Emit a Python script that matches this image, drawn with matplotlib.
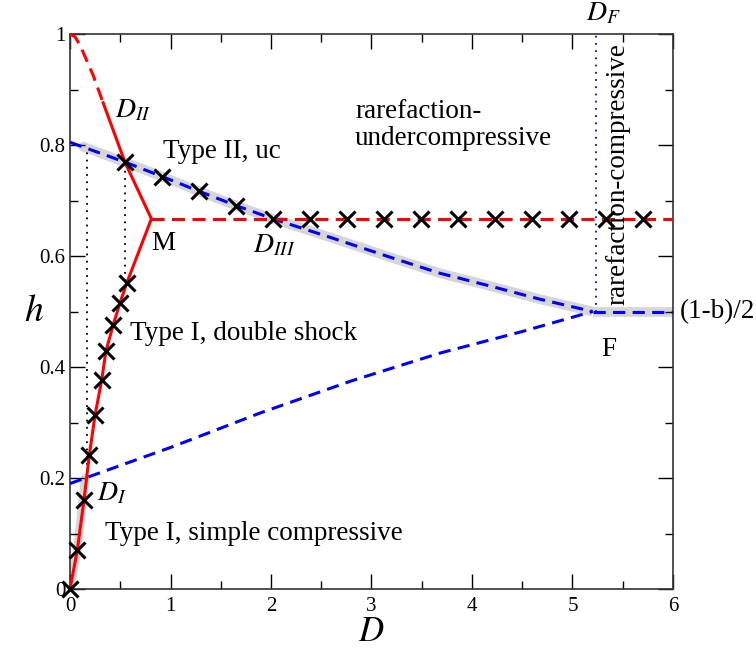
import numpy as np
import matplotlib
matplotlib.use("Agg")
import matplotlib.pyplot as plt
from matplotlib.ticker import MultipleLocator

plt.rcParams['font.family'] = ['Liberation Serif', 'DejaVu Serif']
plt.rcParams['mathtext.fontset'] = 'stix'

# upper blue boundary ending at F
blue_up_D = [0, 0.55, 0.92, 1.28, 1.65, 2.02, 2.6, 3.2, 3.68, 4.2, 4.68, 5.2]
blue_up_h = [0.805, 0.769, 0.743, 0.717, 0.691, 0.667, 0.633, 0.597, 0.569, 0.545, 0.522, 0.50]
flat_D = [5.2, 6.0]
flat_h = [0.5, 0.5]

# lower blue boundary
blue_lo_D = [0, 1.0, 1.89, 2.8, 3.68, 4.5, 5.2]
blue_lo_h = [0.19, 0.255, 0.317, 0.375, 0.425, 0.464, 0.50]

# red lower branch (origin -> M)
red_lo_D = [0, 0.073, 0.139, 0.192, 0.249, 0.315, 0.358, 0.43, 0.497, 0.564, 0.81]
red_lo_h = [0, 0.07, 0.16, 0.241, 0.313, 0.376, 0.429, 0.476, 0.515, 0.551, 0.667]

# red upper branch (h=1 -> M)
red_up_dash_D = [0, 0.05, 0.1, 0.23, 0.33]
red_up_dash_h = [1.0, 0.995, 0.98, 0.926, 0.876]
red_up_D = [0.33, 0.547, 0.81]
red_up_h = [0.876, 0.769, 0.667]

red_flat_D = [0.81, 6.0]
red_flat_h = [0.667, 0.667]

# grey band along the red branch near the origin
band_red_D = [0, 0.073, 0.15]
band_red_h = [0, 0.07, 0.2]

# crosses
x_lo_D = [0, 0.073, 0.139, 0.192, 0.249, 0.315, 0.358, 0.43, 0.497, 0.564]
x_lo_h = [0, 0.07, 0.16, 0.241, 0.313, 0.376, 0.429, 0.476, 0.515, 0.551]
x_up_D = [0.547, 0.918, 1.284, 1.649, 2.02, 2.388, 2.753, 3.124, 3.493,
          3.864, 4.229, 4.597, 4.965, 5.333, 5.704]
x_up_h = [0.769, 0.743, 0.717, 0.691, 0.667, 0.667, 0.667, 0.667, 0.667,
          0.667, 0.667, 0.667, 0.667, 0.667, 0.667]

fig = plt.figure(figsize=(7.56, 6.57), dpi=100)
ax = fig.add_axes([0.0926, 0.1035, 0.7976, 0.8447])

grey = '#d6d6d6'
ax.plot(blue_up_D[1:], blue_up_h[1:], color=grey, lw=7, solid_capstyle='butt', zorder=1)
ax.plot([0.13, 0.55], [0.797, 0.769], color=grey, lw=7, solid_capstyle='round', zorder=1)
ax.plot(flat_D, flat_h, color=grey, lw=7, solid_capstyle='butt', zorder=1, clip_on=False)
ax.plot(band_red_D, band_red_h, color=grey, lw=6, solid_capstyle='round', zorder=1)

bdash = (4.0, 2.4)
ax.plot(blue_up_D, blue_up_h, color='#0000ff', lw=2.2, dashes=bdash, zorder=3)
ax.plot(flat_D, flat_h, color='#0000ff', lw=2.2, dashes=bdash, zorder=3)
ax.plot(blue_lo_D, blue_lo_h, color='#0000ff', lw=2.2, dashes=bdash, zorder=3)

rdash = (4.3, 2.4)
ax.plot(red_lo_D, red_lo_h, color='#ff0000', lw=2.2, zorder=3)
ax.plot(red_up_D, red_up_h, color='#ff0000', lw=2.2, zorder=3)
ax.plot(red_up_dash_D, red_up_dash_h, color='#ff0000', lw=2.2, dashes=rdash, zorder=3)
ax.plot(red_flat_D, red_flat_h, color='#ff0000', lw=2.2, dashes=rdash, zorder=3)

ax.plot([0.165, 0.165], [0.21, 0.797], color='k', lw=1.3, ls=(0, (1, 3)), zorder=2)
ax.plot([0.547, 0.547], [0.555, 0.769], color='k', lw=1.3, ls=(0, (1, 3)), zorder=2)
ax.plot([5.234, 5.234], [0.5, 1.0], color='#0000ff', lw=1.3, ls=(0, (1, 3)), zorder=2)

ax.plot(x_lo_D, x_lo_h, ls='none', marker='x', ms=11, mew=2.2, color='k', zorder=4, clip_on=False)
ax.plot(x_up_D, x_up_h, ls='none', marker='x', ms=11, mew=2.2, color='k', zorder=4)

ax.set_xlim(0, 6)
ax.set_ylim(0, 1)
ax.xaxis.set_major_locator(MultipleLocator(1))
ax.xaxis.set_minor_locator(MultipleLocator(0.5))
ax.yaxis.set_minor_locator(MultipleLocator(0.1))
ax.set_yticks([0, 0.2, 0.4, 0.6, 0.8, 1.0])
ax.set_yticklabels(['0', '0.2', '0.4', '0.6', '0.8', '1'])
ax.tick_params(which='both', direction='in', top=True, right=True, labelsize=15, width=1)
ax.tick_params(which='major', length=10.5)
ax.tick_params(which='minor', length=5.5)
ax.tick_params(axis='x', pad=6)
for s in ax.spines.values():
    s.set_linewidth(1.2)
    s.set_color('#333333')

ax.set_xlabel('$D$', fontsize=25, labelpad=0)
ax.set_ylabel('$h$', fontsize=27, rotation=0, labelpad=4, va='center')

fs = 19.5
ax.text(0.45, 0.849, '$D_{II}$', fontsize=20)
ax.text(0.925, 0.776, 'Type II, uc', fontsize=fs)
ax.text(0.81, 0.61, 'M', fontsize=fs)
ax.text(1.82, 0.607, '$D_{III}$', fontsize=20)
ax.text(2.836, 0.848, 'rarefaction-', fontsize=fs)
ax.text(2.836, 0.800, 'undercompressive', fontsize=fs)
ax.text(5.457, 0.512, 'rarefaction-compressive', fontsize=fs, rotation=90,
        ha='center', va='bottom')
ax.text(5.13, 1.025, '$D_F$', fontsize=20, clip_on=False)
ax.text(6.07, 0.5, '(1-b)/2', fontsize=fs, va='center', clip_on=False)
ax.text(5.29, 0.42, 'F', fontsize=fs)
ax.text(0.597, 0.449, 'Type I, double shock', fontsize=fs)
ax.text(0.265, 0.16, '$D_I$', fontsize=20)
ax.text(0.348, 0.088, 'Type I, simple compressive', fontsize=fs)

fig.savefig('out.png', dpi=100)
